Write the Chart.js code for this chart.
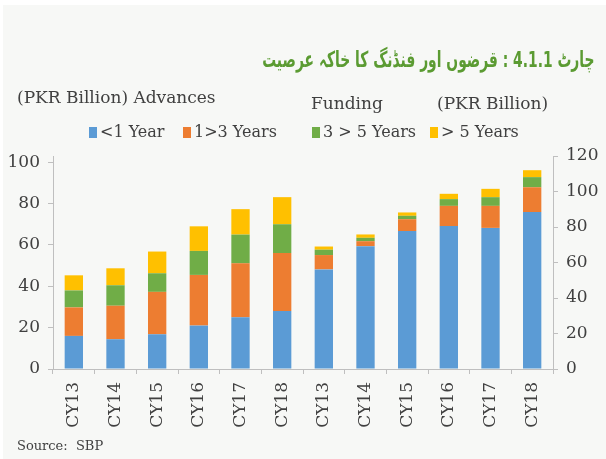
<!DOCTYPE html>
<html>
<head>
<meta charset="utf-8">
<script src="https://cdn.jsdelivr.net/npm/chart.js@4"></script>
<style>
  html, body { margin: 0; padding: 0; background: #fff; }
  #wrap { position: relative; width: 606px; height: 459px; overflow: hidden; }
  #panel { position: absolute; left: 3px; top: 5px; right: 0; bottom: 0; background: #f7f8f6; }
  #cv { position: absolute; left: 0; top: 0; }
  .txt { position: absolute; font-family: 'DejaVu Serif', serif; color: #404040; white-space: nowrap; line-height: 1; }
  #urdu { right: 11px; top: 49px; font-family: 'DejaVu Sans', sans-serif; font-weight: bold; font-size: 22px; color: #5b9b32; direction: rtl; transform: scaleX(0.63); transform-origin: right center; }
  #legend { position: absolute; left: 89px; top: 124px; font-family: 'DejaVu Serif', serif; font-size: 16px; color: #404040; }
  #legend span.item { position: absolute; white-space: nowrap; line-height: 1; }
  #legend i { display: inline-block; width: 8px; height: 11px; margin-right: 3px; vertical-align: -1px; }
</style>
</head>
<body>
<div id="wrap">
  <div id="panel"></div>
  <canvas id="cv" width="606" height="459"></canvas>
  <div id="urdu" class="txt">چارٹ 4.1.1 : قرضوں اور فنڈنگ کا خاکہ عرصیت</div>
  <div class="txt" style="left:17px; top:89px; font-size:17px;">(PKR Billion) Advances</div>
  <div class="txt" style="left:311px; top:95px; font-size:17px;">Funding</div>
  <div class="txt" style="left:437px; top:95px; font-size:17px;">(PKR Billion)</div>
  <div id="legend"></div>
  <div class="txt" style="left:17px; top:439px; font-size:13px;">Source:&nbsp; SBP</div>
</div>
<script>
const years = ['CY13', 'CY14', 'CY15', 'CY16', 'CY17', 'CY18'];
const labels = years.concat(years);

const seriesNames = ['<1 Year', '1>3 Years', '3 > 5 Years', '> 5 Years'];
const colors = ['#5b9bd5', '#ed7d31', '#70ad47', '#ffc000'];

// Advances (left axis)
const advLt1 = [16.0, 14.4, 16.8, 21.0, 25.0, 28.1];
const adv1to3 = [13.8, 16.2, 20.5, 24.5, 26.1, 28.0];
const adv3to5 = [8.2, 9.9, 9.0, 11.6, 13.9, 13.9];
const advGt5 = [7.3, 8.2, 10.5, 11.9, 12.3, 13.1];

// Funding (right axis)
const fundLt1 = [56.1, 69.2, 77.7, 80.5, 79.5, 88.4];
const fund1to3 = [8.1, 2.8, 6.7, 11.4, 12.4, 14.0];
const fund3to5 = [3.0, 1.9, 1.9, 3.8, 4.9, 5.7];
const fundGt5 = [1.8, 1.9, 1.9, 3.0, 4.7, 3.9];

const advSeries = [advLt1, adv1to3, adv3to5, advGt5];
const fundSeries = [fundLt1, fund1to3, fund3to5, fundGt5];
const blanks = years.map(() => null);

const datasets = [];
advSeries.forEach((vals, i) => {
    datasets.push({
        label: seriesNames[i],
        data: vals.concat(blanks),
        backgroundColor: colors[i],
        yAxisID: 'y',
        stack: 'adv'
    });
});
fundSeries.forEach((vals, i) => {
    datasets.push({
        label: seriesNames[i] + ' (Funding)',
        data: blanks.concat(vals),
        backgroundColor: colors[i],
        yAxisID: 'y2',
        stack: 'fund'
    });
});

// html legend
const legendPos = [0, 94, 223, 341];
const legend = document.getElementById('legend');
seriesNames.forEach((name, i) => {
    const s = document.createElement('span');
    s.className = 'item';
    s.style.left = legendPos[i] + 'px';
    const box = document.createElement('i');
    box.style.background = colors[i];
    s.appendChild(box);
    s.appendChild(document.createTextNode(name));
    legend.appendChild(s);
});

Chart.defaults.font.family = "'DejaVu Serif', serif";
Chart.defaults.color = '#404040';

const axisGrey = '#bfbfbf';

const config = {
    type: 'bar',
    data: { labels: labels, datasets: datasets },
    options: {
        responsive: false,
        animation: false,
        datasets: {
            bar: { grouped: false, barPercentage: 0.44, categoryPercentage: 1 }
        },
        layout: { padding: { top: 156, left: 0, right: 0, bottom: 0 } },
        plugins: {
            legend: { display: false },
            tooltip: { enabled: false }
        },
        scales: {
            x: {
                stacked: true,
                grid: { display: true, drawOnChartArea: false, drawTicks: true, tickLength: 5, color: axisGrey, offset: true },
                border: { color: axisGrey },
                ticks: { minRotation: 90, maxRotation: 90, padding: 8, font: { size: 17 }, autoSkip: false },
                afterFit: (s) => { s.height = 90; }
            },
            y: {
                position: 'left',
                stacked: true,
                min: 0,
                max: 103,
                grid: { drawOnChartArea: false, tickLength: 5, color: axisGrey },
                border: { color: axisGrey },
                ticks: { stepSize: 20, includeBounds: false, padding: 8, font: { size: 17 } },
                afterFit: (s) => { s.width = 53; }
            },
            y2: {
                position: 'right',
                stacked: true,
                min: 0,
                max: 120,
                grid: { drawOnChartArea: false, tickLength: 5, color: axisGrey },
                border: { color: axisGrey },
                ticks: { stepSize: 20, padding: 8, font: { size: 17 } },
                afterFit: (s) => { s.width = 53; }
            }
        }
    }
};

const myChart = new Chart(document.getElementById('cv'), config);
</script>
</body>
</html>
